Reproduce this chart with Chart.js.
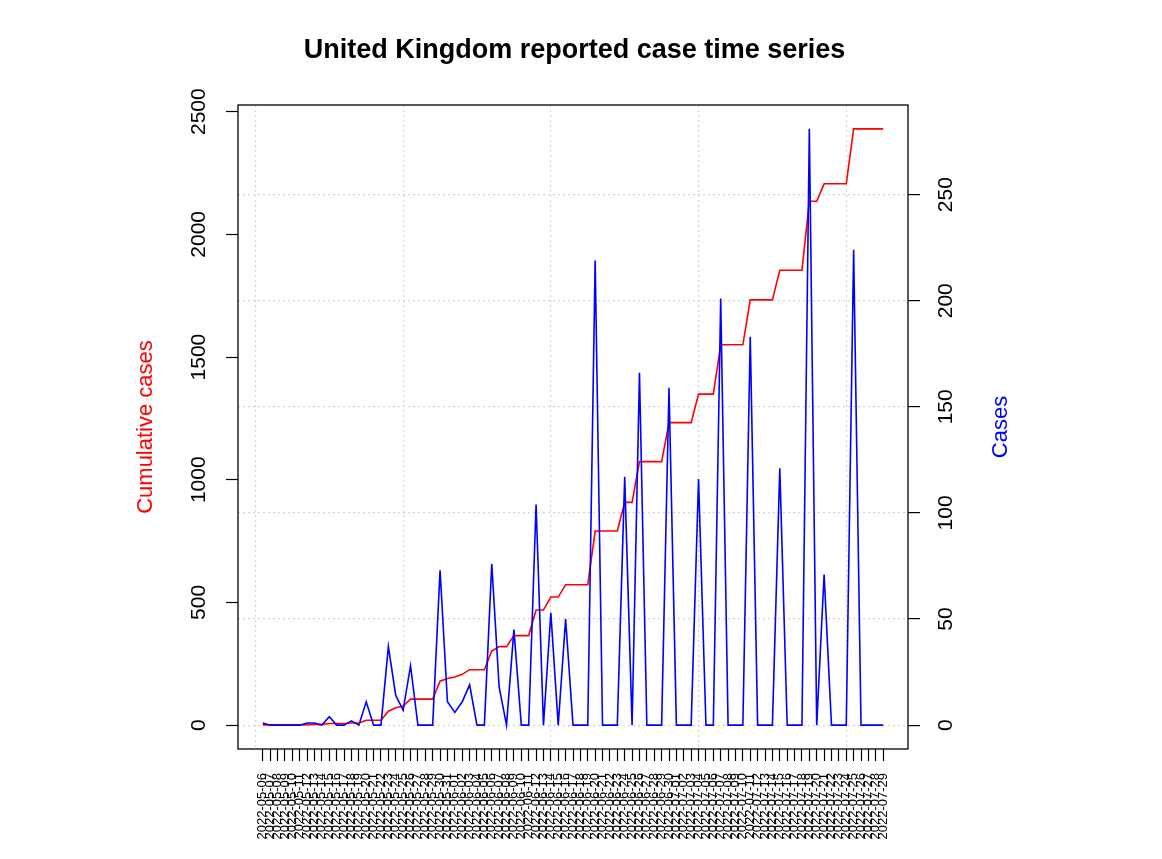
<!DOCTYPE html>
<html>
<head>
<meta charset="utf-8">
<script src="https://cdn.jsdelivr.net/npm/chart.js@4"></script>
<style>
  html, body { margin: 0; padding: 0; background: #fff; }
  canvas { display: block; }
</style>
</head>
<body>
<canvas id="ukChart" width="1162" height="859"></canvas>
<script>
// report dates, one per day
const dates = [
  '2022-05-06','2022-05-07','2022-05-08','2022-05-09','2022-05-10','2022-05-11','2022-05-12','2022-05-13',
  '2022-05-14','2022-05-15','2022-05-16','2022-05-17','2022-05-18','2022-05-19','2022-05-20','2022-05-21',
  '2022-05-22','2022-05-23','2022-05-24','2022-05-25','2022-05-26','2022-05-27','2022-05-28','2022-05-29',
  '2022-05-30','2022-05-31','2022-06-01','2022-06-02','2022-06-03','2022-06-04','2022-06-05','2022-06-06',
  '2022-06-07','2022-06-08','2022-06-09','2022-06-10','2022-06-11','2022-06-12','2022-06-13','2022-06-14',
  '2022-06-15','2022-06-16','2022-06-17','2022-06-18','2022-06-19','2022-06-20','2022-06-21','2022-06-22',
  '2022-06-23','2022-06-24','2022-06-25','2022-06-26','2022-06-27','2022-06-28','2022-06-29','2022-06-30',
  '2022-07-01','2022-07-02','2022-07-03','2022-07-04','2022-07-05','2022-07-06','2022-07-07','2022-07-08',
  '2022-07-09','2022-07-10','2022-07-11','2022-07-12','2022-07-13','2022-07-14','2022-07-15','2022-07-16',
  '2022-07-17','2022-07-18','2022-07-19','2022-07-20','2022-07-21','2022-07-22','2022-07-23','2022-07-24',
  '2022-07-25','2022-07-26','2022-07-27','2022-07-28','2022-07-29'
];

const cases = [
  1, 0, 0, 0, 0, 0, 1, 1, 0, 4, 0, 0, 2, 0, 11, 0, 0, 37, 14, 7,
  28, 0, 0, 0, 73, 11, 6, 11, 19, 0, 0, 76, 18, 0, 45, 0, 0, 104, 0, 53,
  0, 50, 0, 0, 0, 219, 0, 0, 0, 117, 0, 166, 0, 0, 0, 159, 0, 0, 0, 116,
  0, 0, 201, 0, 0, 0, 183, 0, 0, 0, 121, 0, 0, 0, 281, 0, 71, 0, 0, 0,
  224, 0, 0, 0, 0
];

const cumulative = [
  1, 1, 1, 1, 1, 1, 2, 3, 3, 7, 7, 7, 9, 9, 20, 20, 20, 57, 71, 78,
  106, 106, 106, 106, 179, 190, 196, 207, 226, 226, 226, 302, 320, 320, 365, 365, 365, 469, 469, 522,
  522, 572, 572, 572, 572, 791, 791, 791, 791, 908, 908, 1074, 1074, 1074, 1074, 1233, 1233, 1233, 1233, 1349,
  1349, 1349, 1550, 1550, 1550, 1550, 1733, 1733, 1733, 1733, 1854, 1854, 1854, 1854, 2135, 2135, 2206, 2206, 2206, 2206,
  2430, 2430, 2430, 2430, 2430
];

const leftTicks = [0, 500, 1000, 1500, 2000, 2500];
const rightTicks = [0, 50, 100, 150, 200, 250];
const xGrid = [0, 20, 40, 60, 80];

const chartTitle = 'United Kingdom reported case time series';
const leftTitle = 'Cumulative cases';
const rightTitle = 'Cases';

const FONT = '"Liberation Sans", Arial, Helvetica, sans-serif';

// R pads every axis range by 4%
const pad = (lo, hi) => [lo - (hi - lo) * 0.04, hi + (hi - lo) * 0.04];
const [xMin, xMax] = pad(1, dates.length);
const [lMin, lMax] = pad(0, Math.max(...cumulative));
const [rMin, rMax] = pad(0, Math.max(...cases));

// box around the plot + the two side titles (right one reads bottom-to-top like R)
const framePlugin = {
  id: 'frame',
  afterDraw(chart) {
    const { ctx, chartArea: a } = chart;
    const cy = (a.top + a.bottom) / 2;
    ctx.save();
    ctx.strokeStyle = '#000';
    ctx.lineWidth = 1.3;
    ctx.strokeRect(a.left, a.top, a.right - a.left, a.bottom - a.top);
    ctx.font = '22px ' + FONT;
    ctx.textAlign = 'center';
    ctx.textBaseline = 'middle';

    ctx.save();
    ctx.fillStyle = '#ff0000';
    ctx.translate(a.left - 92.5, cy);
    ctx.rotate(-Math.PI / 2);
    ctx.fillText(leftTitle, 0, 0);
    ctx.restore();

    ctx.save();
    ctx.fillStyle = '#0000ff';
    ctx.translate(a.right + 92.5, cy);
    ctx.rotate(-Math.PI / 2);
    ctx.fillText(rightTitle, 0, 0);
    ctx.restore();

    ctx.restore();
  }
};

new Chart(document.getElementById('ukChart'), {
  type: 'line',
  data: {
    datasets: [
      {
        label: rightTitle,
        data: cases.map((v, i) => ({ x: i + 1, y: v })),
        yAxisID: 'y1',
        borderColor: '#0000ff',
        borderWidth: 1.6,
        pointRadius: 0,
        tension: 0,
        order: 1
      },
      {
        label: leftTitle,
        data: cumulative.map((v, i) => ({ x: i + 1, y: v })),
        yAxisID: 'y',
        borderColor: '#ff0000',
        borderWidth: 1.6,
        pointRadius: 0,
        tension: 0,
        order: 2
      }
    ]
  },
  options: {
    responsive: false,
    animation: false,
    layout: { padding: { left: 0, right: 13, top: 0, bottom: 0 } },
    plugins: {
      legend: { display: false },
      tooltip: { enabled: false },
      title: {
        display: true,
        text: chartTitle,
        color: '#000',
        font: { family: FONT, size: 27, weight: 'bold' },
        padding: { top: 34, bottom: 38.6 }
      }
    },
    scales: {
      x: {
        type: 'linear',
        position: 'bottom',
        min: xMin,
        max: xMax,
        afterBuildTicks: s => { s.ticks = dates.map((d, i) => ({ value: i + 1 })); },
        afterFit: s => { s.height = 110; },
        border: { display: false },
        grid: { drawOnChartArea: false, drawTicks: true, tickLength: 12, color: '#000', tickWidth: 1.2 },
        ticks: {
          autoSkip: false,
          minRotation: 90,
          maxRotation: 90,
          padding: 12,
          color: '#000',
          font: { family: FONT, size: 13 },
          callback: v => dates[v - 1]
        }
      },
      xg: {
        type: 'linear',
        position: 'bottom',
        min: xMin,
        max: xMax,
        afterBuildTicks: s => { s.ticks = xGrid.map(v => ({ value: v })); },
        afterFit: s => { s.height = 0; },
        border: { display: false, dash: [2, 3] },
        grid: { drawOnChartArea: true, drawTicks: false, color: '#d3d3d3', lineWidth: 1.2 },
        ticks: { display: false }
      },
      y: {
        type: 'linear',
        position: 'left',
        min: lMin,
        max: lMax,
        afterBuildTicks: s => { s.ticks = leftTicks.map(v => ({ value: v })); },
        afterFit: s => { s.width = 238; },
        border: { display: false },
        grid: { drawOnChartArea: false, drawTicks: true, tickLength: 12, color: '#000', tickWidth: 1.2 },
        ticks: {
          minRotation: 90,
          crossAlign: 'center',
          padding: 3,
          color: '#000',
          font: { family: FONT, size: 21 },
          callback: v => String(v)
        }
      },
      y1: {
        type: 'linear',
        position: 'right',
        min: rMin,
        max: rMax,
        afterBuildTicks: s => { s.ticks = rightTicks.map(v => ({ value: v })); },
        afterFit: s => { s.width = 241; },
        border: { display: false, dash: [2, 3] },
        grid: { drawOnChartArea: true, drawTicks: true, tickLength: 12, color: '#d3d3d3', lineWidth: 1.2, tickColor: '#000', tickWidth: 1.2 },
        ticks: {
          minRotation: 90,
          crossAlign: 'center',
          padding: 9,
          color: '#000',
          font: { family: FONT, size: 21 },
          callback: v => String(v)
        }
      }
    }
  },
  plugins: [framePlugin]
});
</script>
</body>
</html>
